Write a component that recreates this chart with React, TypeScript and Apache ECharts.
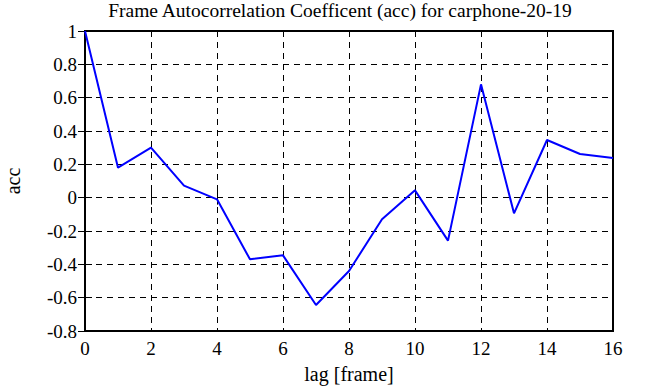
import React, { useEffect, useRef } from "react";
import * as echarts from "echarts";

const lags = [0, 1, 2, 3, 4, 5, 6, 7, 8, 9, 10, 11, 12, 13, 14, 15, 16];
const acc = [1.0, 0.18, 0.3, 0.072, -0.01, -0.37, -0.346, -0.644, -0.44, -0.13, 0.044, -0.258, 0.68, -0.094, 0.346, 0.262, 0.238];
const titleText = "Frame Autocorrelation Coefficent (acc) for carphone-20-19";
const xName = "lag [frame]";
const yName = "acc";

export default function App() {
  const ref = useRef<HTMLDivElement>(null);
  useEffect(() => {
    document.body.style.margin = "0";
    const chart = echarts.init(ref.current!, null, { renderer: "svg" });
    const font = "Liberation Serif";
    const split = { show: true, lineStyle: { color: "#000", width: 1, type: [6, 5] as any } };
    const tick = { show: true, inside: true, length: 7, lineStyle: { color: "#000" } };
    chart.setOption({
      animation: false,
      backgroundColor: "#fff",
      textStyle: { fontFamily: font, color: "#000" },
      title: {
        text: titleText,
        left: 340,
        textAlign: "center",
        top: 0,
        padding: 0,
        textStyle: { fontFamily: font, fontSize: 19.5, fontWeight: "normal", color: "#000" },
      },
      grid: {
        left: 85,
        right: 33,
        top: 31,
        bottom: 56,
        outerBoundsMode: "none",
        containLabel: false,
        show: true,
        borderColor: "#000",
        borderWidth: 2,
        backgroundColor: "transparent",
      },
      xAxis: [
        {
          type: "value",
          min: 0,
          max: 16,
          interval: 2,
          name: xName,
          nameLocation: "middle",
          nameGap: 33,
          nameTextStyle: { fontFamily: font, fontSize: 20, color: "#000" },
          axisLine: { show: false },
          axisTick: tick,
          axisLabel: { fontFamily: font, fontSize: 19, color: "#000", margin: 8 },
          splitLine: split,
        },
        {
          type: "value",
          position: "top",
          min: 0,
          max: 16,
          interval: 2,
          axisLine: { show: false },
          axisTick: tick,
          axisLabel: { show: false },
          splitLine: { show: false },
        },
      ],
      yAxis: [
        {
          type: "value",
          min: -0.8,
          max: 1,
          interval: 0.2,
          name: yName,
          nameLocation: "middle",
          nameGap: 62,
          nameRotate: 90,
          nameTextStyle: { fontFamily: font, fontSize: 20, color: "#000" },
          axisLine: { show: false },
          axisTick: tick,
          axisLabel: {
            fontFamily: font,
            fontSize: 19,
            color: "#000",
            margin: 8,
            formatter: (v: number) => String(Math.round(v * 10) / 10),
          },
          splitLine: split,
        },
        {
          type: "value",
          position: "right",
          min: -0.8,
          max: 1,
          interval: 0.2,
          axisLine: { show: false },
          axisTick: tick,
          axisLabel: { show: false },
          splitLine: { show: false },
        },
      ],
      series: [
        {
          type: "line",
          data: lags.map((l, i) => [l, acc[i]]),
          showSymbol: false,
          symbol: "none",
          lineStyle: { color: "#0000ff", width: 2 },
          clip: false,
        },
      ],
    });
    return () => chart.dispose();
  }, []);
  return <div ref={ref} style={{ width: 646, height: 387 }} />;
}
